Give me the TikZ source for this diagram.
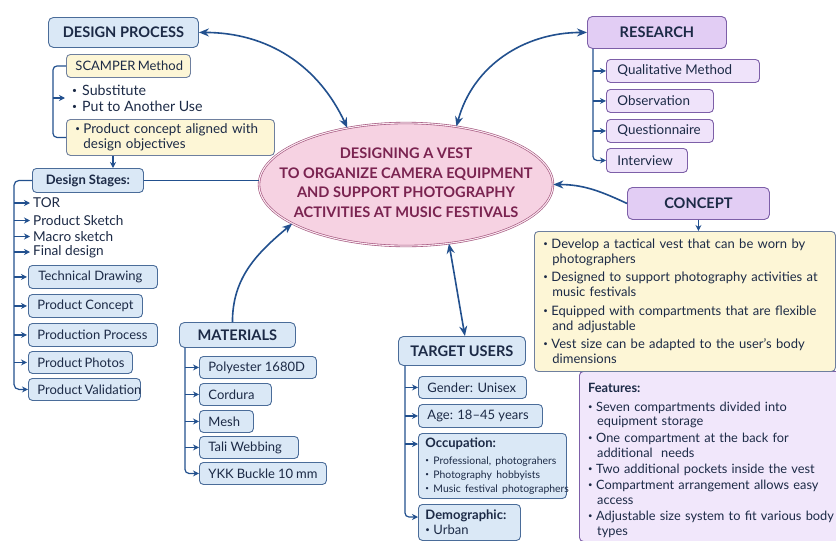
\documentclass[tikz,border=0pt]{standalone}
\usepackage{fontspec}
\setmainfont{Lato}
\usepackage{graphicx}
\usetikzlibrary{arrows.meta,shapes.geometric}
\definecolor{ink}{HTML}{1C2A46}
\definecolor{arr}{HTML}{22508E}
\definecolor{bfill}{HTML}{DAE8F6}
\definecolor{bdraw}{HTML}{4A6C99}
\definecolor{yfill}{HTML}{FDF6D6}
\definecolor{ydraw}{HTML}{6E7F9E}
\definecolor{phead}{HTML}{E2CDF4}
\definecolor{pitem}{HTML}{EFE3FA}
\definecolor{pdraw}{HTML}{7D5FA8}
\definecolor{pkfill}{HTML}{F6D2E2}
\definecolor{pkdraw}{HTML}{A0507A}
\definecolor{pktext}{HTML}{7A2350}
\newcommand\bu{\makebox[8pt][l]{\raisebox{0.3ex}{\scalebox{0.6}{•}}}}
\newcommand\bw{\makebox[10pt][l]{\raisebox{0.3ex}{\scalebox{0.6}{•}}}}
\newcommand\lb[2]{\hbox to #1pt{#2\hfil}}
\tikzset{
  boxbase/.style={rounded corners=4pt, line width=0.9pt, text=ink,
    font=\fontsize{13}{15}\selectfont, inner xsep=9pt, inner ysep=0pt, anchor=north west},
  bitem/.style={boxbase, draw=bdraw, fill=bfill},
  pitm/.style={boxbase, draw=pdraw, fill=pitem},
  ritm/.style={pitm, font=\fontsize{13.4}{15}\selectfont, inner xsep=11pt},
  yitem/.style={boxbase, draw=ydraw, fill=yfill},
  hblue/.style={bitem, rounded corners=5pt, font=\fontsize{14.6}{16}\selectfont\bfseries, inner xsep=0pt},
  hpurp/.style={pitm, fill=phead, rounded corners=5pt, font=\fontsize{14.6}{16}\selectfont\bfseries, inner xsep=0pt},
  plain/.style={text=ink, font=\fontsize{13.6}{15}\selectfont, inner sep=0pt, anchor=west, align=left},
  conn/.style={draw=arr, line width=1.2pt},
  arrtip/.style={conn, -{Stealth[length=6pt,width=6pt]}},
  bigarr/.style={draw=arr, line width=1.6pt, -{Stealth[length=10pt,width=8pt]}},
  bigboth/.style={bigarr, {Stealth[length=10pt,width=8pt]}-{Stealth[length=10pt,width=8pt]}},
}
\begin{document}
\begin{tikzpicture}[x=1pt,y=1pt]
\fill[white] (0,0) rectangle (836,-541);
\useasboundingbox (0,0) rectangle (836,-541);

% central ellipse
\node[ellipse, minimum width=294pt, minimum height=123pt, inner sep=0pt, fill=pkfill,
  draw=pkdraw, line width=0.6pt, double=pkfill!50!white, double distance=1.1pt] (main) at (406,-184.5) {};
\node[text=pktext, font=\fontsize{14.6}{19.5}\selectfont\bfseries, align=center] (maintxt) at (406,-182.5)
  {DESIGNING A VEST\\TO ORGANIZE CAMERA EQUIPMENT\\AND SUPPORT PHOTOGRAPHY\\ACTIVITIES AT MUSIC FESTIVALS};

% design process
\node[hblue, minimum width=150pt, minimum height=30pt] (dp) at (48,-17) {DESIGN PROCESS};
\node[yitem, minimum height=23pt] (scamper) at (66,-54) {\lb{106}{SCAMPER Method}};
\node[plain, font=\fontsize{14.2}{16}\selectfont] (subs) at (72,-98) {\bw Substitute\\\bw Put to Another Use};
\node[yitem, minimum height=36pt, text width=190pt, align=left, font=\fontsize{13.4}{14.5}\selectfont] (pc) at (66,-119)
  {\bu Product concept aligned with\\\hspace*{8pt}design objectives};
\node[bitem, minimum width=111pt, minimum height=24pt, inner xsep=0pt, font=\fontsize{13}{15}\selectfont\bfseries] (ds) at (32,-168) {Design Stages:};
\node[plain] (tor) at (33,-203) {TOR};
\node[plain] (psk) at (33,-220.5) {Product Sketch};
\node[plain] (msk) at (33,-236.5) {Macro sketch};
\node[plain] (fd) at (33,-252) {Final design};
\node[bitem, minimum height=23pt, inner xsep=10pt] (td) at (28,-265) {\lb{109}{Technical Drawing}};
\node[bitem, minimum height=23pt] (pcon) at (28,-294) {\lb{96}{Product Concept}};
\node[bitem, minimum height=23pt] (pp) at (28,-323) {\lb{111}{Production Process}};
\node[bitem, minimum height=22pt] (ph) at (28,-351) {\lb{86}{Product Photos}};
\node[bitem, minimum height=22pt] (pv) at (28,-378) {\lb{94}{Product Validation}};

% research
\node[hpurp, minimum width=139pt, minimum height=32pt] (res) at (587,-16) {RESEARCH};
\node[ritm, minimum height=23pt] (qm) at (606,-59) {\lb{131}{Qualitative Method}};
\node[ritm, minimum height=23pt] (obs) at (606,-89) {\lb{85}{Observation}};
\node[ritm, minimum height=23pt] (que) at (606,-119) {\lb{85}{Questionnaire}};
\node[ritm, minimum height=24pt] (int) at (606,-148) {\lb{59}{Interview}};

% features (box, then its text)
\node[pitm, fill=pitem!85!white, minimum height=170pt, minimum width=290pt] (feat) at (579,-371) {};
\node[text=ink, anchor=west, inner sep=0pt, text width=260pt, align=left,
  font=\fontsize{12.8}{14.8}\selectfont] (feattxt) at ([xshift=9pt,yshift=-4pt]feat.west)
  {\textbf{Features:}\\[4pt]
   \bu Seven compartments divided into\\\hspace*{9pt}equipment storage\\[1.5pt]
   \bu One compartment at the back for\\\hspace*{9pt}additional\ \ needs\\[1.5pt]
   \bu Two additional pockets inside the vest\\[1.5pt]
   \bu Compartment arrangement allows easy\\\hspace*{9pt}access\\[1.5pt]
   \bu Adjustable size system to fit various body\\\hspace*{9pt}types};

% concept
\node[hpurp, minimum width=142pt, minimum height=32pt] (cpt) at (627,-187) {CONCEPT};
\node[yitem, minimum height=140pt, text width=283pt, align=left] (cbox) at (534,-231)
  {\bu Develop a tactical vest that can be worn by\\\hspace*{9pt}photographers\\[3.5pt]
   \bu Designed to support photography activities at\\\hspace*{9pt}music festivals\\[3.5pt]
   \bu Equipped with compartments that are flexible\\\hspace*{9pt}and adjustable\\[3.5pt]
   \bu Vest size can be adapted to the user’s body\\\hspace*{9pt}dimensions};

% materials
\node[hblue, minimum width=116pt, minimum height=25pt] (mat) at (179,-322) {MATERIALS};
\node[bitem, minimum height=22pt] (poly) at (199,-356) {\lb{99}{Polyester 1680D}};
\node[bitem, minimum height=22pt] (cord) at (199,-383) {\lb{54}{Cordura}};
\node[bitem, minimum height=22pt] (mesh) at (199,-410) {\lb{36}{Mesh}};
\node[bitem, minimum height=22pt] (tali) at (199,-436) {\lb{81}{Tali Webbing}};
\node[bitem, minimum height=22pt] (ykk) at (199,-462) {\lb{109}{YKK Buckle 10 mm}};

% target users
\node[hblue, minimum width=127pt, minimum height=29pt] (tu) at (398,-336) {TARGET USERS};
\node[bitem, minimum height=22pt] (gen) at (418,-376) {\lb{90}{Gender: Unisex}};
\node[bitem, minimum height=23pt] (age) at (418,-404) {\lb{106}{Age: 18–45 years}};
\node[bitem, minimum height=65pt, text width=134pt, inner xsep=7pt, align=left] (occ) at (418,-433)
  {\textbf{Occupation:}\\[2pt]
   \mbox{\fontsize{10.4}{12}\selectfont\bu Professional, photograhers}\\[-1pt]
   \mbox{\fontsize{10.4}{12}\selectfont\bu Photography hobbyists}\\[-1pt]
   \mbox{\fontsize{10.4}{12}\selectfont\bu Music festival photographers}};
\node[bitem, minimum height=36pt, text width=88pt, inner xsep=7pt, align=left] (demo) at (418,-504)
  {\textbf{Demographic:}\\\bu Urban};

% main connectors
\draw[bigboth] (dp.east) to[out=0, in=115] (main.136);
\draw[bigboth] (res.west) to[out=180, in=75] (main.49);
\draw[bigarr] (cpt.west) to[out=155, in=0] (main.east);
\draw[bigarr] ([xshift=-5pt]mat.north) to[out=90, in=-140] (main.-161);
\draw[bigboth] (main.-54) to[out=-80, in=100] ([xshift=3pt]tu.north);

% design process brackets
\coordinate (dpbar) at (53,0);
\coordinate (pcds) at (113,0);
\coordinate (sbar) at (14,0);
\draw[conn, rounded corners=4pt] (scamper.west) -| (dpbar |- pc.west) -- (pc.west);
\draw[arrtip, shorten >=7pt] (dpbar |- subs.west) -- (subs.west);
\draw[arrtip] (pcds |- pc.south) -- (pcds |- ds.north);
\draw[conn] (ds.east) -- (ds.east -| main.west);
\draw[arrtip, rounded corners=5pt] (ds.west) -| (sbar |- pv.west) -- (pv.west);
\foreach \n in {tor,psk,msk,fd}
  \draw[arrtip, shorten >=3pt] (sbar |- \n.west) -- (\n.west);
\foreach \n in {td,pcon,pp,ph}
  \draw[arrtip, shorten >=1pt] (sbar |- \n.west) -- (\n.west);

% research bracket
\coordinate (rbar) at (593,0);
\draw[arrtip, rounded corners=4pt] (rbar |- res.south) -- (rbar |- int.west) -- (int.west);
\foreach \n in {qm,obs,que}
  \draw[arrtip] (rbar |- \n.west) -- (\n.west);

% concept
\draw[arrtip] (cpt.south) -- (cpt.south |- cbox.north);

% materials bracket
\coordinate (mbar) at (185,0);
\draw[arrtip, rounded corners=4pt] (mbar |- mat.south) -- (mbar |- ykk.west) -- (ykk.west);
\foreach \n in {poly,cord,mesh,tali}
  \draw[arrtip] (mbar |- \n.west) -- (\n.west);

% target bracket
\coordinate (tbar) at (405,0);
\draw[arrtip, rounded corners=4pt] (tbar |- tu.south) -- ([yshift=-13pt]tbar |- demo.north) -- ([yshift=-13pt]demo.north west);
\foreach \n in {gen,age}
  \draw[arrtip] (tbar |- \n.west) -- (\n.west);
\draw[arrtip] ([yshift=-11pt]tbar |- occ.north) -- ([yshift=-11pt]occ.north west);
\end{tikzpicture}
\end{document}
